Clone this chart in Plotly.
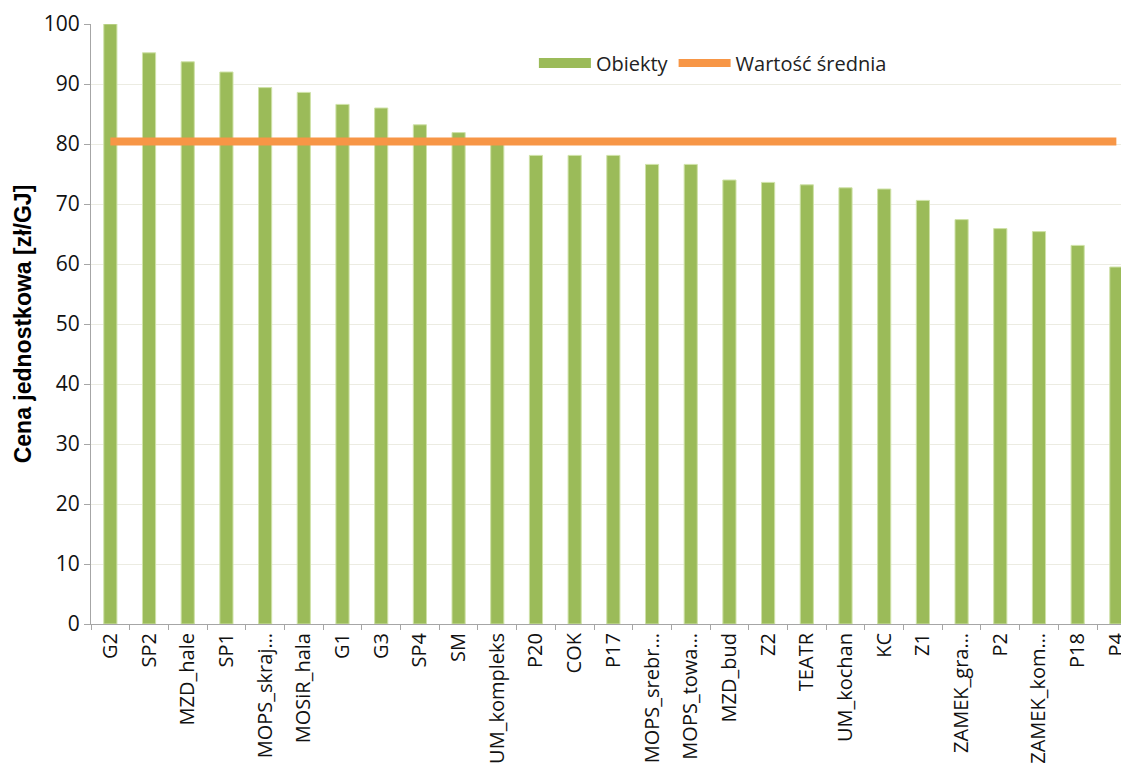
import plotly.graph_objects as go

categories = ["G2", "SP2", "MZD_hale", "SP1", "MOPS_skraj…", "MOSiR_hala", "G1", "G3", "SP4", "SM",
              "UM_kompleks", "P20", "COK", "P17", "MOPS_srebr…", "MOPS_towa…", "MZD_bud", "Z2",
              "TEATR", "UM_kochan", "KC", "Z1", "ZAMEK_gra…", "P2", "ZAMEK_kom…", "P18", "P4"]
obiekty = [100.0, 95.2, 93.7, 92.0, 89.4, 88.6, 86.6, 86.0, 83.2, 81.9,
           80.3, 78.1, 78.1, 78.1, 76.6, 76.6, 74.0, 73.6,
           73.2, 72.7, 72.5, 70.6, 67.4, 65.9, 65.4, 63.1, 59.5]
mean_value = 80.4
y_ticks = [0, 10, 20, 30, 40, 50, 60, 70, 80, 90, 100]

GREEN = "#9bbb59"
ORANGE = "#f79646"

fig = go.Figure()
fig.add_trace(go.Bar(
    x=categories, y=obiekty, name="Obiekty", showlegend=False, legendgroup="obiekty",
    marker=dict(color=GREEN, line=dict(color="#cfe2a8", width=1)),
    width=0.34,
))
# legend entry drawn as a wide rectangle, like the reference
fig.add_trace(go.Scatter(
    x=[None], y=[None], name="Obiekty", legendgroup="obiekty",
    mode="lines", line=dict(color=GREEN, width=14),
))
fig.add_trace(go.Scatter(
    x=categories, y=[mean_value] * len(categories), name="Wartość średnia",
    mode="lines", line=dict(color=ORANGE, width=8),
))

fig.update_layout(
    width=1121, height=770,
    margin=dict(l=83, r=0, t=16, b=154),
    paper_bgcolor="white", plot_bgcolor="white",
    font=dict(family="Open Sans, Lato, sans-serif", color="#222222"),
    showlegend=True,
    legend=dict(orientation="h", x=0.43, xanchor="left", y=0.935, yanchor="middle",
                font=dict(size=20, family="Open Sans", color="#222222"),
                bgcolor="rgba(0,0,0,0)", itemwidth=52, tracegroupgap=0),
    xaxis=dict(
        type="category", range=[-0.5, 26.12],
        tickangle=-90, tickfont=dict(size=20, family="Open Sans", color="#111111"),
        showline=True, linecolor="#a6a6a6", linewidth=1,
        ticks="outside", ticklen=5, tickcolor="#a6a6a6", tickson="boundaries",
        showgrid=False,
    ),
    yaxis=dict(
        range=[0, 100], tickvals=y_ticks,
        tickfont=dict(size=21, family="Open Sans", color="#111111"),
        showline=True, linecolor="#a6a6a6", linewidth=1,
        ticks="outside", ticklen=6, tickcolor="#a6a6a6",
        showgrid=True, gridcolor="#ecece2", gridwidth=1,
        zeroline=False,
        title=dict(text="<b>Cena jednostkowa [zł/GJ]</b>",
                   font=dict(size=23, family="Liberation Sans Narrow, Liberation Sans, Arial", color="#000000"),
                   standoff=5),
    ),
)

fig.write_html("out.html")
